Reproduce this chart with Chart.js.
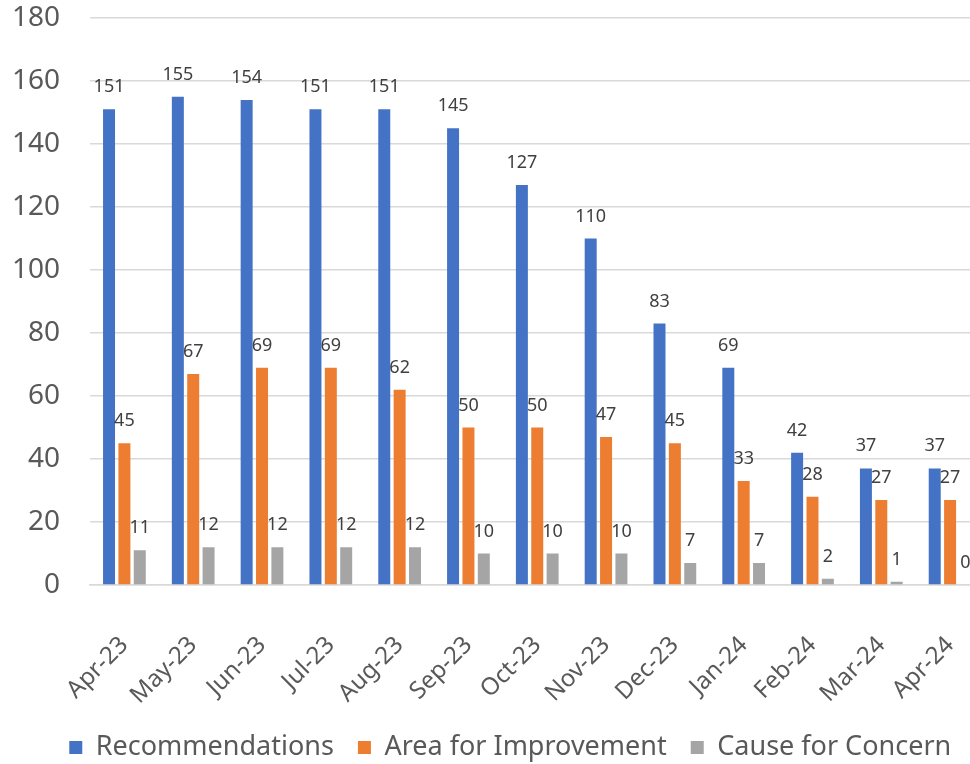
<!DOCTYPE html>
<html>
<head>
<meta charset="utf-8">
<script src="https://cdn.jsdelivr.net/npm/chart.js@4.4.1/dist/chart.umd.min.js"></script>
<style>
    html, body { margin: 0; padding: 0; background: #fff; overflow: hidden; }
    #wrap { width: 1000px; height: 771px; }
</style>
</head>
<body>
<div id="wrap"><canvas id="reviewChart" width="1000" height="771"></canvas></div>
<script>
// Chart data
const months = ['Apr-23', 'May-23', 'Jun-23', 'Jul-23', 'Aug-23', 'Sep-23', 'Oct-23',
                'Nov-23', 'Dec-23', 'Jan-24', 'Feb-24', 'Mar-24', 'Apr-24'];
const recommendations = [151, 155, 154, 151, 151, 145, 127, 110, 83, 69, 42, 37, 37];
const areaForImprovement = [45, 67, 69, 69, 62, 50, 50, 47, 45, 33, 28, 27, 27];
const causeForConcern = [11, 12, 12, 12, 12, 10, 10, 10, 7, 7, 2, 1, 0];
const yTicks = [0, 20, 40, 60, 80, 100, 120, 140, 160, 180];

// Chart colors
const colors = {
    blue: '#4472c4',
    orange: '#ed7d31',
    gray: '#a5a5a5',
    grid: '#d9d9d9',
    text: '#595959',
    label: '#404040'
};

const fontFamily = '"Noto Sans", "Open Sans", sans-serif';

// Value labels above each bar
const barLabels = {
    id: 'bar-labels',
    afterDatasetsDraw(chart) {
        const ctx = chart.ctx;
        ctx.save();
        ctx.font = '18px ' + fontFamily;
        ctx.fillStyle = colors.label;
        ctx.textAlign = 'center';
        ctx.textBaseline = 'alphabetic';
        chart.data.datasets.forEach((ds, i) => {
            chart.getDatasetMeta(i).data.forEach((bar, j) => {
                ctx.fillText(String(ds.data[j]), bar.x, bar.y - 17);
            });
        });
        ctx.restore();
    }
};

// Nudge the legend right so it sits where the original does
const legendShift = {
    id: 'legend-shift',
    afterLayout(chart) {
        chart.legend.left += 18;
        chart.legend.right += 18;
    }
};

const ctx = document.getElementById('reviewChart').getContext('2d');
new Chart(ctx, {
    type: 'bar',
    data: {
        labels: months,
        datasets: [
            { label: 'Recommendations', data: recommendations, backgroundColor: colors.blue },
            { label: 'Area for Improvement', data: areaForImprovement, backgroundColor: colors.orange },
            { label: 'Cause for Concern', data: causeForConcern, backgroundColor: colors.gray }
        ]
    },
    options: {
        responsive: false,
        animation: false,
        layout: { padding: { top: 18, right: 15.5, left: 0, bottom: 0 } },
        datasets: {
            bar: { categoryPercentage: 0.67, barPercentage: 0.78 }
        },
        scales: {
            y: {
                min: 0,
                max: 180,
                afterBuildTicks(scale) {
                    scale.ticks = yTicks.map(v => ({ value: v }));
                },
                afterFit(scale) {
                    scale.width = 90;
                    scale.paddingTop = 0;
                    scale.paddingBottom = 0;
                },
                border: { display: false },
                grid: { color: colors.grid, lineWidth: 1.5, drawTicks: false },
                ticks: {
                    padding: 30,
                    color: colors.text,
                    font: { family: fontFamily, size: 28 }
                }
            },
            x: {
                afterFit(scale) {
                    scale.height = 125;
                    scale.paddingLeft = 0;
                    scale.paddingRight = 0;
                    // let rotated labels run past the axis box instead of being clipped
                    scale._computeLabelArea = () => undefined;
                },
                border: { color: colors.grid, width: 1.5 },
                grid: { display: false, drawTicks: false },
                ticks: {
                    minRotation: 45,
                    maxRotation: 45,
                    padding: 46,
                    color: colors.text,
                    font: { family: fontFamily, size: 24 }
                }
            }
        },
        plugins: {
            legend: {
                position: 'bottom',
                labels: {
                    boxWidth: 13,
                    boxHeight: 13,
                    padding: 24,
                    color: colors.text,
                    font: { family: fontFamily, size: 27 }
                }
            },
            tooltip: { enabled: false }
        }
    },
    plugins: [barLabels, legendShift]
});
</script>
</body>
</html>
